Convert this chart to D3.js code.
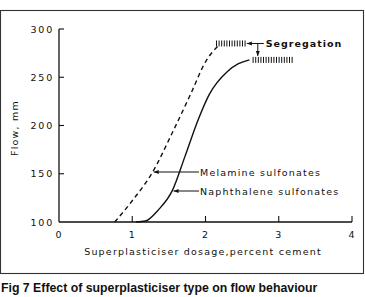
<!DOCTYPE html>
<html>
<head>
<meta charset="utf-8">
<script src="https://cdn.jsdelivr.net/npm/d3@7"></script>
<style>
  body { margin: 0; background: #fff; }
  svg { display: block; }
  .mono { font-family: "DejaVu Sans", sans-serif; font-size: 9.5px; letter-spacing: 1.2px; fill: #111; }
</style>
</head>
<body>
<svg id="chart"></svg>
<script>
// Data (dosage %, flow mm)
const melamineX = [0.76, 1.0, 1.28, 1.55, 1.8, 2.0, 2.18];
const melamineY = [100, 122, 152, 193, 233, 266, 283];
const naphthX = [1.05, 1.18, 1.35, 1.55, 1.72, 1.9, 2.05, 2.3, 2.45, 2.6];
const naphthY = [100, 101, 112, 133, 168, 206, 232, 256, 264, 268];
// segregation zones: [from, to, flow]
const segMel = [2.15, 2.55, 285];
const segNaph = [2.65, 3.2, 268];
const xTicks = [0, 1, 2, 3, 4];
const yTicks = [100, 150, 200, 250, 300];

const width = 365, height = 297;
const svg = d3.select("#chart").attr("width", width).attr("height", height);

const x = d3.scaleLinear().domain([0, 4]).range([59, 352]);
const y = d3.scaleLinear().domain([100, 300]).range([222, 29]);

// outer frame
svg.append("rect")
  .attr("x", 0.5).attr("y", 10.5)
  .attr("width", 363).attr("height", 263)
  .attr("fill", "none").attr("stroke", "#333").attr("stroke-width", 1.1);

const ink = "#111";

// axes
svg.append("line")
  .attr("x1", x(0)).attr("x2", x(4)).attr("y1", y(100)).attr("y2", y(100))
  .attr("stroke", ink).attr("stroke-width", 1.3);
svg.append("line")
  .attr("x1", x(0)).attr("x2", x(0)).attr("y1", y(100)).attr("y2", y(300))
  .attr("stroke", ink).attr("stroke-width", 1.3);

// x ticks (upward)
svg.selectAll("line.xt")
  .data(xTicks.slice(1))
  .join("line")
  .attr("class", "xt")
  .attr("x1", d => x(d)).attr("x2", d => x(d))
  .attr("y1", y(100)).attr("y2", y(100) - 6)
  .attr("stroke", ink).attr("stroke-width", 1.1);

svg.selectAll("text.xl")
  .data(xTicks)
  .join("text")
  .attr("class", "xl mono")
  .attr("x", d => x(d)).attr("y", y(100) + 16)
  .attr("text-anchor", "middle")
  .text(d => d);

// y ticks (inward)
svg.selectAll("line.yt")
  .data(yTicks.slice(1))
  .join("line")
  .attr("class", "yt")
  .attr("x1", x(0)).attr("x2", x(0) + 5)
  .attr("y1", d => y(d)).attr("y2", d => y(d))
  .attr("stroke", ink).attr("stroke-width", 1.1);

svg.selectAll("text.yl")
  .data(yTicks)
  .join("text")
  .attr("class", "yl mono")
  .attr("x", x(0) - 5).attr("y", d => y(d) + 3.5)
  .attr("text-anchor", "end")
  .style("letter-spacing", "1.8px")
  .text(d => d);

// axis titles
svg.append("text")
  .attr("class", "mono")
  .attr("x", 203).attr("y", 255)
  .attr("text-anchor", "middle")
  .text("Superplasticiser dosage,percent cement");

svg.append("text")
  .attr("class", "mono")
  .attr("transform", `translate(18,128) rotate(-90)`)
  .attr("text-anchor", "middle")
  .text("Flow, mm");

// curves
const line = d3.line()
  .x(d => x(d[0])).y(d => y(d[1]))
  .curve(d3.curveMonotoneX);

svg.append("path")
  .attr("d", line(d3.zip(melamineX, melamineY)))
  .attr("fill", "none").attr("stroke", ink)
  .attr("stroke-width", 1.4).attr("stroke-dasharray", "4.5,3.5");

svg.append("path")
  .attr("d", line(d3.zip(naphthX, naphthY)))
  .attr("fill", "none").attr("stroke", ink)
  .attr("stroke-width", 1.4);

// segregation hatch marks
function hatch(seg) {
  const [a, b, v] = seg;
  const xs = d3.range(x(a), x(b), 2.6);
  svg.append("g").selectAll("line")
    .data(xs)
    .join("line")
    .attr("x1", d => d).attr("x2", d => d)
    .attr("y1", y(v) - 3).attr("y2", y(v) + 3)
    .attr("stroke", ink).attr("stroke-width", 1);
}
hatch(segMel);
hatch(segNaph);

// arrowhead
svg.append("defs").append("marker")
  .attr("id", "arr")
  .attr("viewBox", "0 0 10 10")
  .attr("refX", 10).attr("refY", 5)
  .attr("markerWidth", 6).attr("markerHeight", 5)
  .attr("orient", "auto-start-reverse")
  .append("path").attr("d", "M0,1L10,5L0,9Z").attr("fill", ink);

// segregation label + arrows
const segX = x(segMel[1]) + 12;
svg.append("line")
  .attr("x1", segX + 6).attr("x2", x(segMel[1]) + 1)
  .attr("y1", y(segMel[2])).attr("y2", y(segMel[2]))
  .attr("stroke", ink).attr("stroke-width", 1).attr("marker-end", "url(#arr)");
svg.append("line")
  .attr("x1", segX).attr("x2", segX)
  .attr("y1", y(segMel[2])).attr("y2", y(segNaph[2]) - 4)
  .attr("stroke", ink).attr("stroke-width", 1).attr("marker-end", "url(#arr)");
svg.append("text")
  .attr("class", "mono")
  .attr("x", segX + 8).attr("y", y(segMel[2]) + 4)
  .style("font-weight", "bold")
  .style("letter-spacing", "1px")
  .text("Segregation");

// curve labels with arrows
const labels = [
  { text: "Melamine sulfonates", flow: 152, tipX: 1.28 },
  { text: "Naphthalene sulfonates", flow: 133, tipX: 1.55 }
];
const labelY = [172, 191];
labels.forEach((l, i) => {
  svg.append("line")
    .attr("x1", 199).attr("x2", x(l.tipX) + 1)
    .attr("y1", labelY[i]).attr("y2", labelY[i])
    .attr("stroke", ink).attr("stroke-width", 1).attr("marker-end", "url(#arr)");
  svg.append("text")
    .attr("class", "mono")
    .attr("x", 200).attr("y", labelY[i] + 3.5)
    .text(l.text);
});

// caption
svg.append("text")
  .attr("x", 1).attr("y", 292)
  .attr("font-family", "Liberation Sans, Arial, sans-serif")
  .attr("font-weight", "bold")
  .attr("font-size", 12.3)
  .attr("fill", ink)
  .text("Fig 7 Effect of superplasticiser type on flow behaviour");
</script>
</body>
</html>
